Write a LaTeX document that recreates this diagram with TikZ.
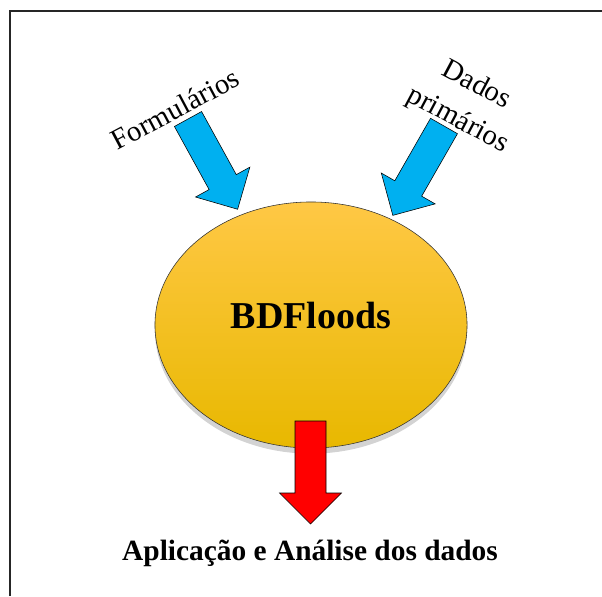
\documentclass[tikz,border=0pt]{standalone}
\usepackage{fontspec}
\setmainfont{Liberation Serif}
\usepackage{tikz}
\usetikzlibrary{shapes, shadows, positioning}
\definecolor{azul}{HTML}{00B0F0}
\definecolor{vermelho}{HTML}{FF0000}
\definecolor{ouroA}{HTML}{FFC845}
\definecolor{ouroB}{HTML}{FFC000}
\definecolor{ouroC}{HTML}{E8B800}
\tikzset{
  seta/.pic={\draw[pic actions] (0,15.5) -- (72,15.5) -- (72,31) -- (103,0) -- (72,-31) -- (72,-15.5) -- (0,-15.5) -- cycle;},
  rotulo/.style={font=\fontsize{20.5}{28}\selectfont, align=center},
}

\begin{document}
\begin{tikzpicture}[x=0.025cm, y=-0.025cm]
        \useasboundingbox (0,0) rectangle (602,596);
        % Moldura
        \draw[line width=1.3pt, black!85] (10,596) -- (10,11) -- (602,11);
        % Elipse central
        \node[ellipse, draw=black!80, thin, minimum width=7.8cm, minimum height=6.15cm,
              top color=ouroA, middle color=ouroB, bottom color=ouroC,
              drop shadow={shadow xshift=0pt, shadow yshift=-4pt, opacity=0.35}] (bd) at (311,325) {};
        \node[font=\fontsize{27}{30}\selectfont\bfseries] (bdtxt) at (311,316) {BDFloods};
        % Entradas
        \node[rotulo, rotate=28] (form) at (175,109) {Formulários};
        \node[rotulo, rotate=-28] (dados) at (467,103) {Dados\\primários};
        \pic[rotate=-61.2, fill=azul, draw=black, thin] (setaform) at (188,119) {seta};
        \pic[rotate=-119.8, fill=azul, draw=black, thin] (setadados) at (444,126) {seta};
        % Saida
        \pic[rotate=-90, fill=vermelho, draw=black, thin] (setasaida) at (310.5,421) {seta};
        \node[font=\fontsize{20.9}{24}\selectfont\bfseries] (aplic) at (310,553) {Aplicação e Análise dos dados};
    \end{tikzpicture}
\end{document}
